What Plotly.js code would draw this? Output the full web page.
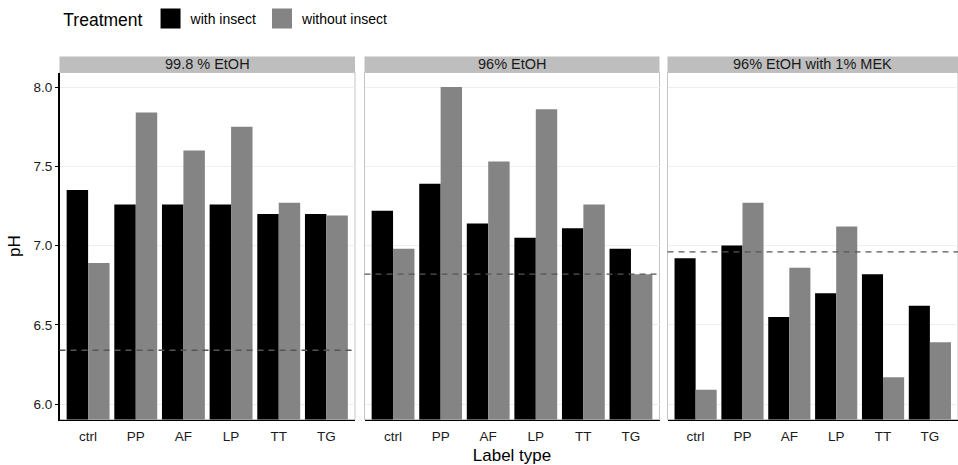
<!DOCTYPE html>
<html>
<head>
<meta charset="utf-8">
<script src="https://cdn.plot.ly/plotly-3.0.1.min.js"></script>
<style>html,body{margin:0;padding:0;background:#fff;}#chart{width:958px;height:465px;}</style>
</head>
<body>
<div id="chart"></div>
<script>
// ---- data ----
const labels = ['ctrl', 'PP', 'AF', 'LP', 'TT', 'TG'];
const panelTitles = ['99.8 % EtOH', '96% EtOH', '96% EtOH with 1% MEK'];
const seriesNames = ['with insect', 'without insect'];
const withInsect998 = [7.35, 7.26, 7.26, 7.26, 7.20, 7.20];
const withoutInsect998 = [6.89, 7.84, 7.60, 7.75, 7.27, 7.19];
const withInsect96 = [7.22, 7.39, 7.14, 7.05, 7.11, 6.98];
const withoutInsect96 = [6.98, 8.00, 7.53, 7.86, 7.26, 6.82];
const withInsectMEK = [6.92, 7.00, 6.55, 6.70, 6.82, 6.62];
const withoutInsectMEK = [6.09, 7.27, 6.86, 7.12, 6.17, 6.39];
const referenceLine = [6.34, 6.82, 6.96];
const yTicks = [6.0, 6.5, 7.0, 7.5, 8.0];
const yTickText = ['6.0', '6.5', '7.0', '7.5', '8.0'];

// ---- styling ----
const colors = ['#000000', '#848484'];
const W = 958, H = 465;
const panelPx = [[59.5, 355], [364.5, 659.5], [667.5, 958]];
const plotTop = 72.5, plotBottom = 419.5, stripTop = 56.5;
const FONT = 'Liberation Sans, Arial, sans-serif';

const seriesByPanel = [
  [withInsect998, withoutInsect998],
  [withInsect96, withoutInsect96],
  [withInsectMEK, withoutInsectMEK]
];

const traces = [];
seriesByPanel.forEach((pair, p) => {
  const ax = p === 0 ? '' : String(p + 1);
  pair.forEach((vals, s) => {
    traces.push({
      type: 'bar', x: labels, y: vals, name: seriesNames[s],
      xaxis: 'x' + ax, yaxis: 'y' + ax,
      marker: {color: colors[s], line: {width: 0}},
      showlegend: false, hoverinfo: 'x+y'
    });
  });
});
// legend keys
seriesNames.forEach((n, s) => {
  traces.push({
    type: 'scatter', mode: 'markers', x: [null], y: [null], name: n,
    xaxis: 'x', yaxis: 'y',
    marker: {symbol: 'square', size: 20, color: colors[s], line: {color: colors[s], width: 4}},
    showlegend: true
  });
});

const yDomain = [1 - plotBottom / H, 1 - plotTop / H];
const yRange = [5.903, 8.092];

const layout = {
  width: W, height: H,
  margin: {l: 0, r: 0, t: 0, b: 0},
  paper_bgcolor: '#ffffff', plot_bgcolor: '#ffffff',
  font: {family: FONT, size: 13.5, color: '#1a1a1a'},
  barmode: 'group', bargap: 0.1, bargroupgap: 0,
  showlegend: true,
  legend: {
    orientation: 'h', x: 0.064, y: 1 - 3 / H, xanchor: 'left', yanchor: 'top',
    title: {text: 'Treatment', font: {size: 17.5, color: '#000'}, side: 'left'},
    font: {size: 14, color: '#000'},
    itemsizing: 'trace', bgcolor: 'rgba(0,0,0,0)'
  },
  shapes: [], annotations: []
};

panelPx.forEach((px, p) => {
  const ax = p === 0 ? '' : String(p + 1);
  const xd = [px[0] / W, px[1] / W];
  layout['xaxis' + ax] = {
    domain: xd, type: 'category', range: [-0.6, 5.6], fixedrange: true,
    showline: true, linecolor: '#000', linewidth: 1.5, mirror: false,
    ticks: '', showgrid: false, zeroline: false, ticklabelstandoff: 4,
    tickfont: {size: 13.5, color: '#1a1a1a'},
    anchor: 'y' + ax
  };
  layout['yaxis' + ax] = {
    domain: yDomain, range: yRange, fixedrange: true,
    tickvals: yTicks, ticktext: yTickText,
    showticklabels: p === 0, ticks: p === 0 ? 'outside' : '', ticklen: 3, tickcolor: '#000', tickwidth: 1,
    showline: p === 0, linecolor: '#000', linewidth: 1.5,
    showgrid: true, gridcolor: '#efefef', gridwidth: 1, zeroline: false,
    tickfont: {size: 13.5, color: '#1a1a1a'},
    anchor: 'x' + ax
  };
  // panel border (light grey)
  layout.shapes.push({
    type: 'rect', xref: 'x' + ax + ' domain', yref: 'y' + ax + ' domain',
    x0: 0, x1: 1, y0: 0, y1: 1, line: {color: '#c4c4c4', width: 1}, layer: 'below'
  });
  // strip
  layout.shapes.push({
    type: 'rect', xref: 'paper', yref: 'paper',
    x0: xd[0], x1: xd[1], y0: 1 - plotTop / H, y1: 1 - stripTop / H,
    fillcolor: '#bebebe', line: {color: '#bebebe', width: 0}
  });
  layout.annotations.push({
    xref: 'paper', yref: 'paper', x: (xd[0] + xd[1]) / 2, y: 1 - (plotTop + stripTop) / 2 / H,
    text: panelTitles[p], showarrow: false, xanchor: 'center', yanchor: 'middle',
    font: {size: 14.5, color: '#1a1a1a'}
  });
  // reference dashed line
  layout.shapes.push({
    type: 'line', xref: 'x' + ax + ' domain', yref: 'y' + ax,
    x0: 0, x1: 1, y0: referenceLine[p], y1: referenceLine[p],
    line: {color: '#555555', width: 1.3, dash: '6px,5px'}, layer: 'above'
  });
});

layout.yaxis.title = {text: 'pH', font: {size: 17, color: '#000'}, standoff: 8};
layout.xaxis2.title = {text: 'Label type', font: {size: 17, color: '#000'}, standoff: 15};

Plotly.newPlot('chart', traces, layout, {displayModeBar: false, staticPlot: true});
</script>
</body>
</html>
